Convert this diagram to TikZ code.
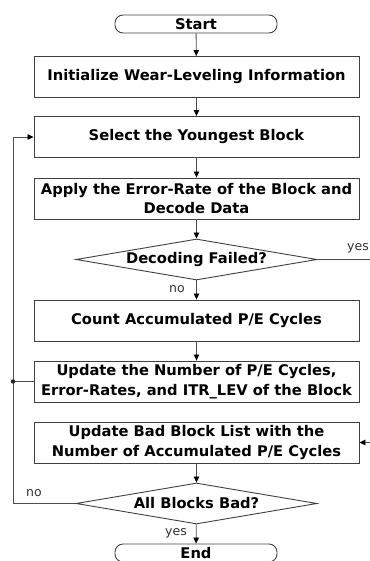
\documentclass[tikz,border=0pt]{standalone}
\usepackage{fontspec}
\setmainfont{DejaVu Sans}
\usetikzlibrary{shapes.geometric, arrows.meta}
\tikzstyle{startstop} = [rectangle, rounded corners=8pt, minimum width=162pt, minimum height=18pt, inner sep=0pt, text centered, draw=black!75, line width=0.9pt, font=\bfseries\fontsize{14.7}{16}\selectfont]
\tikzstyle{process} = [rectangle, minimum width=325pt, minimum height=41pt, inner sep=0pt, align=center, draw=black!75, line width=0.9pt, font=\bfseries\fontsize{14.7}{19.5}\selectfont]
\tikzstyle{decision} = [diamond, aspect=5.9, minimum width=241pt, minimum height=41pt, inner sep=0pt, text centered, draw=black!75, line width=0.9pt, font=\bfseries\fontsize{14.7}{16}\selectfont]
\tikzstyle{arrow} = [line width=0.8pt,-{Triangle[length=6pt,width=5.5pt,color=black]},draw=black!70]
\tikzstyle{lbl} = [font=\fontsize{12.5}{14}\selectfont, text=black!80, inner sep=0pt]

\begin{document}
\begin{tikzpicture}[x=1pt,y=1pt]
            \useasboundingbox (0,0) rectangle (369,-561);
            \node [startstop] at (196,-24) (start) {Start};
            \node [process] at (196.5,-77) (process1) {Initialize Wear-Leveling Information};
            \node [process] at (196.5,-137) (process2) {Select the Youngest Block};
            \node [process] at (196.5,-198.5) (process3) {Apply the Error-Rate of the Block and\\Decode Data};
            \node [decision] at (196.5,-259.5) (decision1) {Decoding Failed?};
            \node [process] at (196.5,-320.5) (process4) {Count Accumulated P/E Cycles};
            \node [process] at (196.5,-381.5) (process5) {Update the Number of P/E Cycles,\\Error-Rates, and ITR\_LEV of the Block};
            \node [process] at (196.5,-442.5) (process6) {Update Bad Block List with the\\Number of Accumulated P/E Cycles};
            \node [decision] at (196.5,-503.5) (decision2) {All Blocks Bad?};
            \node [startstop] at (196,-553) (stop) {End};

            \coordinate (yesout) at (372,-259.5);
            \coordinate (yesin) at (372,-442.5);
            \coordinate (loop) at (13,-503.5);
            \coordinate (junc) at (13,-381.5);

            \draw [arrow] (start) -- (process1);
            \draw [arrow] (process1) -- (process2);
            \draw [arrow] (process2) -- (process3);
            \draw [arrow] (process3) -- (decision1);
            \draw [arrow] (decision1) -- (process4);
            \draw [arrow] (process4) -- (process5);
            \draw [arrow] (process6) -- (decision2);
            \draw [arrow] (decision2) -- (stop);
            \draw [arrow,-] (decision1) -- (yesout);
            \draw [arrow] (yesin) -- (process6);
            \draw [arrow] (decision2) -- (loop) |- (process2);
            \draw [arrow,-] (process5) -- (junc);
            \fill [black!85] (junc) circle (2.2pt);

            \node [lbl] at (358,-248) {yes};
            \node [lbl] at (177,-289) {no};
            \node [lbl] at (34,-493) {no};
            \node [lbl] at (176,-533) {yes};
\end{tikzpicture}
\end{document}
